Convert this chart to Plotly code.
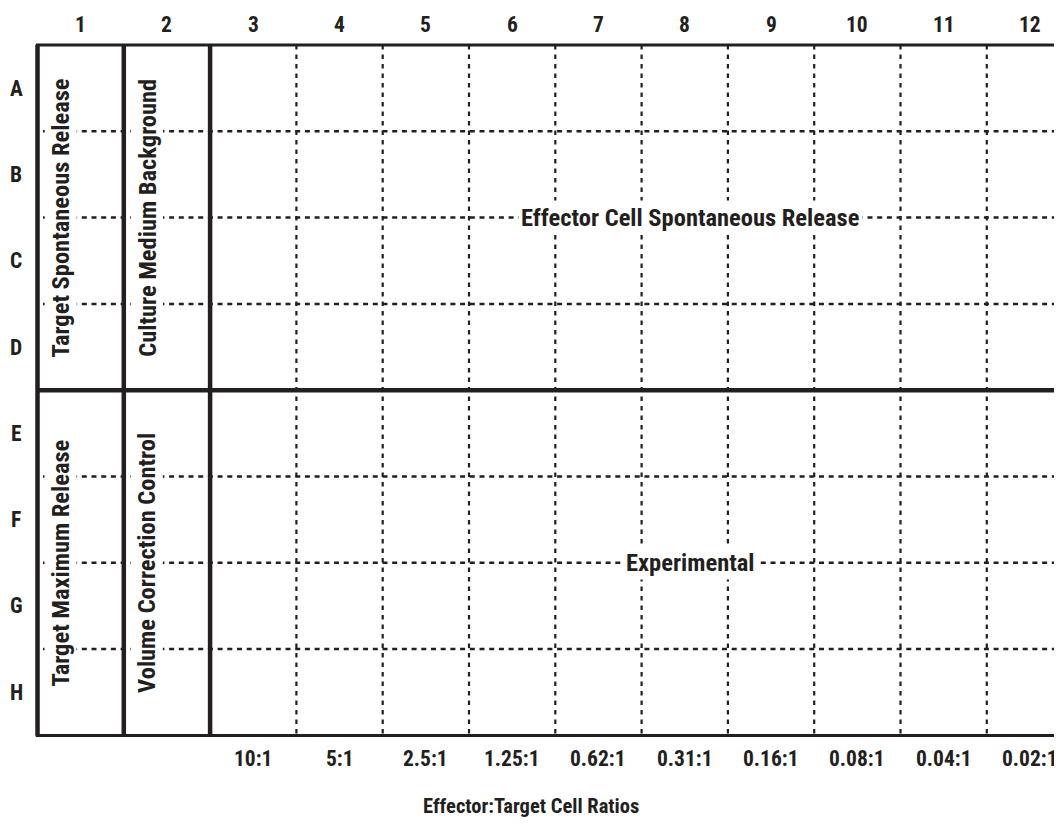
import plotly.graph_objects as go

# ---------------- data ----------------
col_labels = ["1", "2", "3", "4", "5", "6", "7", "8", "9", "10", "11", "12"]
row_labels = ["A", "B", "C", "D", "E", "F", "G", "H"]
ratio_labels = ["10:1", "5:1", "2.5:1", "1.25:1", "0.62:1", "0.31:1",
                "0.16:1", "0.08:1", "0.04:1", "0.02:1"]
ratio_cols = [3, 4, 5, 6, 7, 8, 9, 10, 11, 12]
control_col1 = ["Target Spontaneous Release", "Target Maximum Release"]
control_col2 = ["Culture Medium Background", "Volume Correction Control"]
sample_regions = ["Effector Cell Spontaneous Release", "Experimental"]
x_title = "Effector:Target Cell Ratios"

# ---------------- layout geometry ----------------
OFF = 8            # page body margin in which the figure is placed
W, H = 1062 - OFF, 830 - 2 * OFF
CW = 86.3          # px per column
RH = 86.3          # px per row
L, T = 37.5, 45.0  # window px position of plate's top-left corner
INK = "#231f20"
FONT = "Liberation Sans Narrow, Roboto Condensed, Arial Narrow, sans-serif"

ncol, nrow = len(col_labels), len(row_labels)
Lf, Tf = L - OFF, T - OFF
x_range = [0.5 - Lf / CW, 0.5 + (W - Lf) / CW]
y_range = [0.5 + (H - Tf) / RH, 0.5 - Tf / RH]

def px_x(p):
    return 0.5 + (p - L) / CW

def px_y(p):
    return 0.5 + (p - T) / RH

fig = go.Figure()
fig.add_trace(go.Scatter(x=[1, ncol], y=[1, nrow], mode="markers",
                         marker=dict(opacity=0), hoverinfo="skip",
                         showlegend=False))

shapes = []
vdash = dict(color=INK, width=2.2, dash="4.5px,5px")
hdash = dict(color=INK, width=2.5, dash="5px,4.7px")
for c in range(3, ncol):
    shapes.append(dict(type="line", x0=c + 0.5, x1=c + 0.5, y0=0.5, y1=nrow + 0.5,
                       line=vdash, layer="above"))
for r in range(1, nrow):
    if r == nrow // 2:
        continue
    shapes.append(dict(type="line", x0=px_x(43), x1=ncol + 0.6, y0=r + 0.5, y1=r + 0.5,
                       line=hdash, layer="above"))
thick = dict(color=INK, width=4.5)
for xv in (0.5, 1.5, 2.5):
    shapes.append(dict(type="line", x0=xv, x1=xv, y0=0.5, y1=nrow + 0.5, line=thick))
shapes.append(dict(type="line", x0=0.5, x1=ncol + 0.6, y0=nrow / 2 + 0.5,
                   y1=nrow / 2 + 0.5, line=thick))
edge = dict(color=INK, width=3)
shapes.append(dict(type="line", x0=0.48, x1=ncol + 0.6, y0=0.5, y1=0.5, line=edge))
shapes.append(dict(type="line", x0=0.48, x1=ncol + 0.6, y0=nrow + 0.5, y1=nrow + 0.5,
                   line=edge))

ann = []
lab_font = dict(family=FONT, size=21.5, color=INK, weight="bold")
big_font = dict(family=FONT, size=24.5, color=INK, weight="bold")
for i, t in enumerate(col_labels):
    ann.append(dict(x=i + 1, y=px_y(24), text=t, showarrow=False, font=lab_font,
                    xanchor="center", yanchor="middle"))
for j, t in enumerate(row_labels):
    ann.append(dict(x=px_x(16), y=j + 1, text=t, showarrow=False, font=lab_font,
                    xanchor="center", yanchor="middle"))
for c, t in zip(ratio_cols, ratio_labels):
    ann.append(dict(x=c, y=px_y(758), text=t, showarrow=False, font=lab_font,
                    xanchor="center", yanchor="middle"))
half = nrow / 4
for k in range(2):
    yc = k * nrow / 2 + half + 0.5
    ann.append(dict(x=1 - 0.23, y=yc, text=control_col1[k], textangle=-90,
                    showarrow=False, font=big_font, bgcolor="white", borderpad=1,
                    xanchor="center", yanchor="middle"))
    ann.append(dict(x=2 - 0.23, y=yc, text=control_col2[k], textangle=-90,
                    showarrow=False, font=big_font, bgcolor="white", borderpad=1,
                    xanchor="center", yanchor="middle"))
    ann.append(dict(x=px_x(690), y=yc, text=sample_regions[k],
                    showarrow=False, font=big_font, bgcolor="white", borderpad=2,
                    xanchor="center", yanchor="middle"))
ann.append(dict(x=px_x(531), y=px_y(806), text=x_title,
                showarrow=False, font=dict(family=FONT, size=20.5, color=INK, weight="bold"),
                xanchor="center", yanchor="middle"))

fig.update_layout(
    width=W, height=H,
    margin=dict(l=0, r=0, t=0, b=0),
    paper_bgcolor="white", plot_bgcolor="white",
    xaxis=dict(range=x_range, visible=False, fixedrange=True),
    yaxis=dict(range=y_range, visible=False, fixedrange=True),
    shapes=shapes, annotations=ann,
    showlegend=False,
)
fig.write_html("out.html")
